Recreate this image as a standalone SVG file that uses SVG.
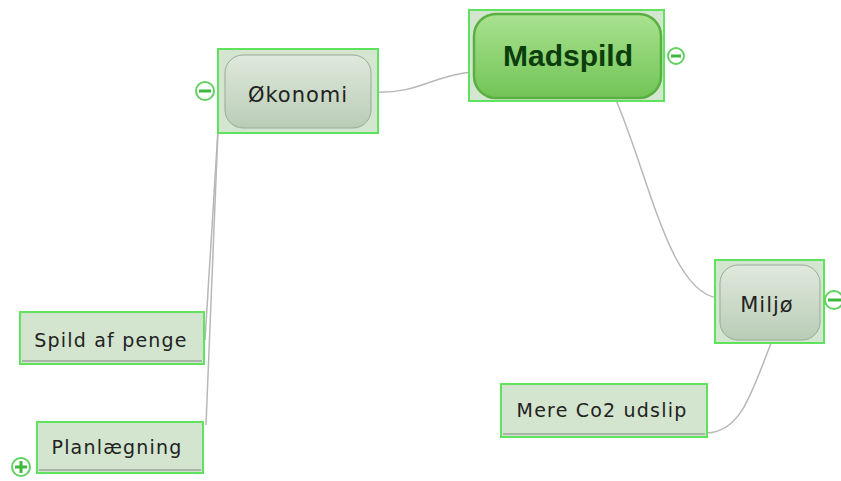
<svg xmlns="http://www.w3.org/2000/svg" width="841" height="481" viewBox="0 0 841 481">
<defs>
<linearGradient id="gMain" x1="0" y1="0" x2="0" y2="1">
<stop offset="0" stop-color="#a9e28f"/>
<stop offset="1" stop-color="#72c457"/>
</linearGradient>
<linearGradient id="gSub" x1="0" y1="0" x2="0" y2="1">
<stop offset="0" stop-color="#dfe9dc"/>
<stop offset="1" stop-color="#b9cdb6"/>
</linearGradient>
</defs>
<style>
.sel{fill:#d5e6d0;stroke:#5fe35f;stroke-width:2}
.main{fill:url(#gMain);stroke:#58b040;stroke-width:2.5}
.sub{fill:url(#gSub);stroke:#9aa99a;stroke-width:1}
.leaf{fill:#d3e5cf;stroke:#5fe35f;stroke-width:2}
.shadow{stroke:#a9b5a6;stroke-width:2}
.t{font-family:"DejaVu Sans",Verdana,sans-serif;fill:#222;font-size:19px;letter-spacing:1.2px;text-anchor:middle}
.ts{font-family:"DejaVu Sans",Verdana,sans-serif;fill:#222;font-size:21px;letter-spacing:1px;text-anchor:middle}
.tm{font-family:"Liberation Sans",Arial,sans-serif;fill:#0c3d0c;font-size:30px;font-weight:bold;text-anchor:middle}
.btn{fill:#fff;stroke:#62d062;stroke-width:2}
.btnl{stroke:#3cb83c;stroke-width:3}
.c{fill:none;stroke:#b8b8b8;stroke-width:1.5}
</style>
<g id="connectors">
<path class="c" d="M372,92 C420,94 430,76 472,72"/>
<path class="c" d="M616,100 C650,180 670,292 718,298"/>
<path class="c" d="M218,130 L205,340"/>
<path class="c" d="M218,130 L206,425"/>
<path class="c" d="M772,341 C752,390 742,432 707,433"/>
</g>
<g id="madspild">
<rect class="sel" x="469" y="10" width="195" height="91"/>
<rect class="main" x="474" y="14" width="187" height="84" rx="22"/>
<text class="tm" x="568" y="66">Madspild</text>
<circle class="btn" cx="676" cy="56" r="8"/>
<line class="btnl" x1="671" y1="56" x2="681" y2="56"/>
</g>
<g id="okonomi">
<rect class="sel" x="218" y="49" width="160" height="84"/>
<rect class="sub" x="225" y="55" width="146" height="73" rx="18"/>
<text class="ts" x="298" y="102">Økonomi</text>
<circle class="btn" cx="205" cy="91" r="9"/>
<line class="btnl" x1="199" y1="91" x2="211" y2="91"/>
</g>
<g id="miljo">
<rect class="sel" x="715" y="260" width="109" height="83"/>
<rect class="sub" x="720" y="265" width="100" height="75" rx="18"/>
<text class="ts" x="767" y="312">Miljø</text>
<circle class="btn" cx="834" cy="300" r="9"/>
<line class="btnl" x1="828" y1="300" x2="841" y2="300"/>
</g>
<g id="spild">
<rect class="leaf" x="20" y="312" width="184" height="52"/>
<line class="shadow" x1="22" y1="361" x2="202" y2="361"/>
<text class="t" x="111" y="347">Spild af penge</text>
</g>
<g id="planlaegning">
<rect class="leaf" x="37" y="422" width="166" height="51"/>
<line class="shadow" x1="39" y1="470" x2="201" y2="470"/>
<text class="t" x="117" y="454">Planlægning</text>
<circle class="btn" cx="21" cy="467" r="9"/>
<line class="btnl" x1="15" y1="467" x2="27" y2="467"/>
<line class="btnl" x1="21" y1="461" x2="21" y2="473"/>
</g>
<g id="mereco2">
<rect class="leaf" x="501" y="384" width="206" height="53"/>
<line class="shadow" x1="503" y1="434" x2="705" y2="434"/>
<text class="t" x="602" y="417">Mere Co2 udslip</text>
</g>
</svg>
